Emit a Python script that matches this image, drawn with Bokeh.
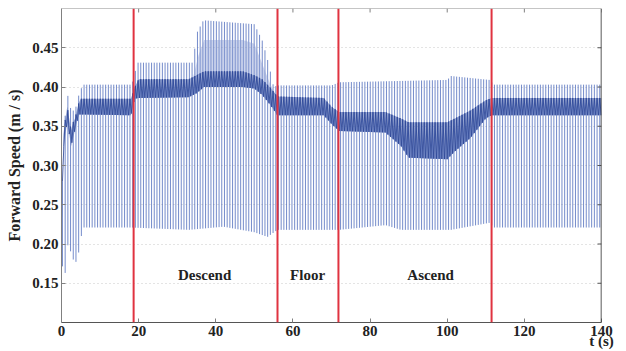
import numpy as np
from bokeh.plotting import figure
from bokeh.models import Range1d, FixedTicker, Span, Label, NumeralTickFormatter, ColumnDataSource
from bokeh.embed import file_html
from bokeh.resources import INLINE

# ---------------- data ----------------
x_ticks = [0, 20, 40, 60, 80, 100, 120, 140]
y_ticks = [0.15, 0.20, 0.25, 0.30, 0.35, 0.40, 0.45]

phase_bounds = [18.7, 56.0, 71.8, 111.5]
phase_names = ["Descend", "Floor", "Ascend"]
phase_label_t = [37.1, 63.8, 95.7]
phase_label_v = [0.161, 0.161, 0.161]

cycle_period = 0.7  # s, spacing of the gait spikes

# dense band of the signal (lower / upper edge)
band_t = [0, 0.5, 1.0, 1.5, 2.0, 2.5, 3.0, 3.5, 4.0, 4.5, 5.0, 6, 18, 19, 20, 33, 35, 37,
          47, 50, 52, 54, 56, 68, 70, 72, 84, 88, 90, 100, 102, 106, 110, 111.5, 140]
band_hi = [0.22, 0.34, 0.36, 0.375, 0.36, 0.345, 0.355, 0.36, 0.37, 0.38, 0.385, 0.385, 0.385,
           0.40, 0.41, 0.41, 0.415, 0.42, 0.42, 0.415, 0.41, 0.40, 0.388, 0.386, 0.375, 0.368,
           0.368, 0.36, 0.355, 0.355, 0.36, 0.37, 0.383, 0.386, 0.386]
band_lo = [0.20, 0.32, 0.34, 0.355, 0.34, 0.325, 0.335, 0.345, 0.355, 0.365, 0.365, 0.365, 0.364,
           0.385, 0.386, 0.387, 0.392, 0.40, 0.40, 0.398, 0.39, 0.378, 0.364, 0.364, 0.353, 0.344,
           0.342, 0.325, 0.31, 0.308, 0.318, 0.335, 0.36, 0.364, 0.364]

# lighter dense zone above the band during the bump
bump_t = [34, 35.5, 37, 47, 50, 52, 54, 55.5]
bump_hi = [0.41, 0.44, 0.46, 0.46, 0.455, 0.43, 0.405, 0.39]
bump_lo = [0.41, 0.415, 0.42, 0.42, 0.415, 0.41, 0.40, 0.388]

# spike peaks
peak_t = [0, 0.5, 1.5, 2.5, 3.5, 4.5, 5.5, 18, 18.8, 19.5, 34, 35.2, 36.8, 50, 52, 53.7, 55,
          56, 70, 72, 100, 101, 111, 112, 140]
peak_v = [0.22, 0.34, 0.392, 0.37, 0.37, 0.39, 0.403, 0.403, 0.41, 0.431, 0.431, 0.47, 0.485,
          0.48, 0.46, 0.43, 0.40, 0.402, 0.402, 0.406, 0.409, 0.414, 0.409, 0.403, 0.403]

# spike troughs
trough_t = [0, 0.5, 1.5, 2.5, 3.5, 4.5, 5.5, 18, 33, 42, 50, 53.4, 56, 72, 84, 88, 101, 111, 112, 140]
trough_v = [0.21, 0.133, 0.20, 0.189, 0.173, 0.19, 0.221, 0.221, 0.218, 0.222, 0.215, 0.209,
            0.218, 0.218, 0.224, 0.218, 0.218, 0.227, 0.221, 0.221]

# ---------------- figure ----------------
FONT = "Liberation Serif"
X0, X1, Y0, Y1 = 0, 140, 0.1, 0.5

p = figure(width=626, height=351, output_backend="svg", toolbar_location=None,
           x_range=Range1d(X0, X1), y_range=Range1d(Y0, Y1),
           min_border_left=61, min_border_right=25, min_border_top=8, min_border_bottom=28)
p.outline_line_color = None
p.background_fill_color = "white"

cyc = np.arange(0.25, 140, cycle_period)
tops = np.interp(cyc, peak_t, peak_v)
bots = np.interp(cyc, trough_t, trough_v)
seg = ColumnDataSource(dict(x=cyc, y0=bots, y1=tops))
p.segment(x0="x", y0="y0", x1="x", y1="y1", source=seg, line_color="#4664b8", line_width=1, line_alpha=0.75)

p.varea(x=bump_t, y1=bump_lo, y2=bump_hi, fill_color="#8fa0d4", fill_alpha=0.45)
p.varea(x=band_t, y1=band_lo, y2=band_hi, fill_color="#4a64b0", fill_alpha=0.55)

# band texture: zig-zag through band per cycle
zx = np.repeat(cyc, 2) + np.tile([0, cycle_period / 2], len(cyc))
zhi = np.interp(zx, band_t, band_hi)
zlo = np.interp(zx, band_t, band_lo)
zy = np.where(np.arange(len(zx)) % 2 == 0, zhi, zlo)
p.line(zx, zy, line_color="#2a4596", line_width=1, line_alpha=0.8)

for b in phase_bounds:
    p.add_layout(Span(location=b, dimension="height", line_color="#e03340", line_width=2))

for name, t, v in zip(phase_names, phase_label_t, phase_label_v):
    p.add_layout(Label(x=t, y=v, text=name, text_align="center", text_baseline="middle",
                       text_font=FONT, text_font_style="bold", text_font_size="15px", text_color="#222222"))

# box: right edge dark, top edge gray, inward ticks on top and right
p.add_layout(Span(location=X1, dimension="height", line_color="#222222", line_width=1.5))
p.add_layout(Span(location=Y1, dimension="width", line_color="#8c8c8c", line_width=1))
tick_dy = (Y1 - Y0) * 4 / 315
tick_dx = (X1 - X0) * 4 / 540
p.segment(x0=x_ticks, y0=[Y1] * len(x_ticks), x1=x_ticks, y1=[Y1 - tick_dy] * len(x_ticks),
          line_color="#808080", line_width=1)
p.segment(x0=[X1] * len(y_ticks), y0=y_ticks, x1=[X1 - tick_dx] * len(y_ticks), y1=y_ticks,
          line_color="#555555", line_width=1)

p.xgrid.visible = False
p.ygrid.ticker = FixedTicker(ticks=y_ticks)
p.ygrid.grid_line_color = "#c8c8c8"
p.ygrid.grid_line_dash = "1 3"

for ax in (p.xaxis[0], p.yaxis[0]):
    ax.major_tick_in = 4
    ax.major_tick_out = 0
    ax.minor_tick_line_color = None
    ax.major_label_text_font = FONT
    ax.major_label_text_font_style = "bold"
    ax.major_label_text_font_size = "15px"
    ax.major_label_text_color = "#222222"
    ax.major_label_standoff = 3
    ax.axis_line_color = "#808080"
    ax.major_tick_line_color = "#808080"
    ax.axis_label_text_font = FONT
    ax.axis_label_text_font_style = "bold"
    ax.axis_label_text_color = "#222222"

p.xaxis[0].ticker = FixedTicker(ticks=x_ticks)
p.xaxis[0].axis_line_color = "#555555"
p.xaxis[0].axis_label = "t (s)"
p.xaxis[0].axis_label_text_font_size = "15px"
p.xaxis[0].axis_label_align = "end"
p.xaxis[0].axis_label_standoff = -6

p.yaxis[0].ticker = FixedTicker(ticks=y_ticks)
p.yaxis[0].formatter = NumeralTickFormatter(format="0.00")
p.yaxis[0].axis_label = "Forward Speed (m / s)"
p.yaxis[0].axis_label_text_font_size = "16px"
p.yaxis[0].axis_label_standoff = 6

open("out.html", "w").write(file_html(p, INLINE))
